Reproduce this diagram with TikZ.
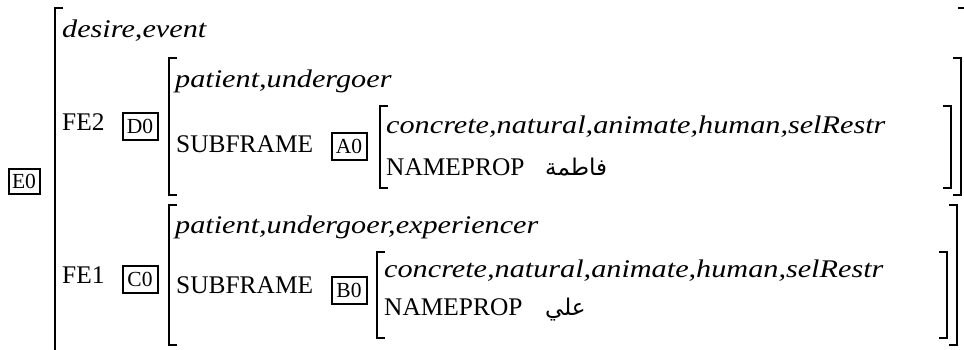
\documentclass[tikz,border=0pt]{standalone}
\usepackage{fontspec}
\setmainfont{Liberation Serif}
\newfontfamily\featfont[FakeStretch=1.19]{Liberation Serif}
\newfontfamily\arabicfont[Script=Arabic]{DejaVu Sans}
\TeXXeTstate=1

\tikzset{
  attr/.style={anchor=base west, inner sep=0pt, font=\fontsize{25.4}{30}\selectfont},
  role/.style={anchor=base west, inner sep=0pt, font=\featfont\fontsize{25.4}{30}\selectfont\itshape},
  tagbox/.style={draw, line width=2pt, inner sep=2pt, minimum width=35pt, minimum height=27pt,
    font=\fontsize{21.5}{24}\selectfont},
  bracket/.style={line width=2pt},
}

\begin{document}
\begin{tikzpicture}[x=1pt, y=-1pt]
  \useasboundingbox (0,0) rectangle (964,349);
  \clip (0,0) rectangle (964,349);
  % brackets: left x / right x / top / bottom
  \foreach \l/\r/\t/\b in {55/966/8/360, 169/961/58/195, 380/951/106/188, 169/957/205/345, 377/947/252/338}{
    \draw[bracket] (\l+8,\t) -- (\l,\t) -- (\l,\b) -- (\l+8,\b);
    \draw[bracket] (\r-8,\t) -- (\r,\t) -- (\r,\b) -- (\r-8,\b);
  }
  % outer frame
  \node[tagbox, minimum width=31pt, minimum height=25pt] (e0) at (24,181) {E0};
  \node[role] (desire) at (62,37) {desire,event};
  % FE2
  \node[attr] (fe2) at (62,130) {FE2};
  \node[tagbox] (d0) at (140,126) {D0};
  \node[role] (pat2) at (175,87) {patient,undergoer};
  \node[attr] (sub2) at (176,152) {SUBFRAME};
  \node[tagbox] (a0) at (349,146) {A0};
  \node[role] (sel2) at (386,133) {concrete,natural,animate,human,selRestr};
  \node[attr] (name2) at (386,175) {NAMEPROP};
  \node[attr] (ar2) at (545,175) {\arabicfont\fontsize{23}{26}\selectfont\beginR فاطمة\endR};
  % FE1
  \node[attr] (fe1) at (62,283) {FE1};
  \node[tagbox] (c0) at (140,279) {C0};
  \node[role] (pat1) at (175,233) {patient,undergoer,experiencer};
  \node[attr] (sub1) at (176,293) {SUBFRAME};
  \node[tagbox] (b0) at (349,290) {B0};
  \node[role] (sel1) at (384,277) {concrete,natural,animate,human,selRestr};
  \node[attr] (name1) at (384,315) {NAMEPROP};
  \node[attr] (ar1) at (545,315) {\arabicfont\fontsize{23}{26}\selectfont\beginR علي\endR};
\end{tikzpicture}
\end{document}
